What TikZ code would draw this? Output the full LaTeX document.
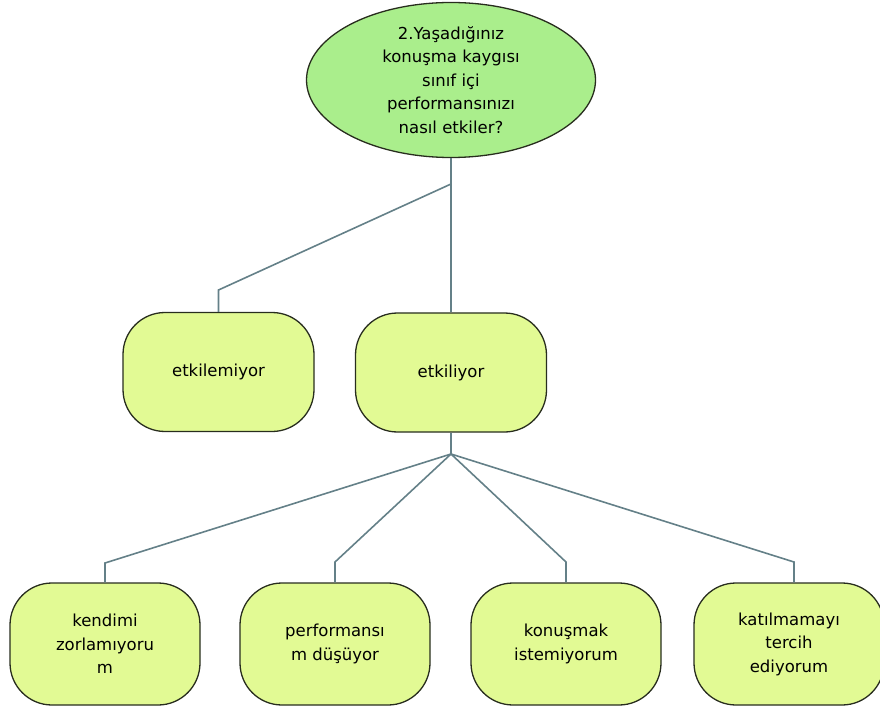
\documentclass[tikz,border=0pt]{standalone}
\usepackage{fontspec}
\setmainfont{DejaVu Sans}
\usetikzlibrary{shapes.geometric}
\definecolor{ellfill}{RGB}{170,238,140}
\definecolor{boxfill}{RGB}{226,250,148}
\definecolor{linkcol}{RGB}{100,128,136}
\definecolor{edgecol}{RGB}{40,45,30}
\tikzset{
  txt/.style={font=\fontsize{16.5}{23.5}\selectfont, align=center, text=black},
  ell/.style={txt, ellipse, draw=edgecol, line width=1.3pt, fill=ellfill, minimum width=289pt, minimum height=155pt, inner sep=0pt},
  rbox/.style={txt, draw=edgecol, line width=1.3pt, fill=boxfill, rounded corners=42pt, inner sep=0pt},
  midbox/.style={rbox, minimum width=191pt, minimum height=119pt},
  lowbox/.style={rbox, minimum width=190pt, minimum height=122pt},
  link/.style={draw=linkcol, line width=1.6pt}
}
\begin{document}
\begin{tikzpicture}[x=1pt,y=-1pt]
\useasboundingbox (0,0) rectangle (880,708);
\node[ell] (q) at (451,80) {2.Yaşadığınız\\konuşma kaygısı\\sınıf içi\\performansınızı\\nasıl etkiler?};
\node[midbox] (m1) at (218.5,372) {etkilemiyor};
\node[midbox] (m2) at (451,372.5) {etkiliyor};
\node[lowbox] (b1) at (105,644) {kendimi\\zorlamıyoru\\m};
\node[lowbox] (b2) at (335,644) {performansı\\m düşüyor};
\node[lowbox] (b3) at (566,644) {konuşmak\\istemiyorum};
\node[lowbox] (b4) at (789,644) {katılmamayı\\tercih\\ediyorum};
\coordinate (j1) at (451,184);
\coordinate (k1) at (218.5,290);
\coordinate (j2) at (451,454);
\coordinate (c1) at (105,563);
\coordinate (c2) at (335,562);
\coordinate (c3) at (566,562);
\coordinate (c4) at (794,562);
\draw[link] (q.south) -- (j1) -- (m2.north);
\draw[link] (j1) -- (k1) -- (m1.north);
\draw[link] (m2.south) -- (j2);
\draw[link] (j2) -- (c1) -- (b1.north);
\draw[link] (j2) -- (c2) -- (b2.north);
\draw[link] (j2) -- (c3) -- (b3.north);
\draw[link] (j2) -- (c4) -- (c4 |- b4.north);
\end{tikzpicture}
\end{document}
